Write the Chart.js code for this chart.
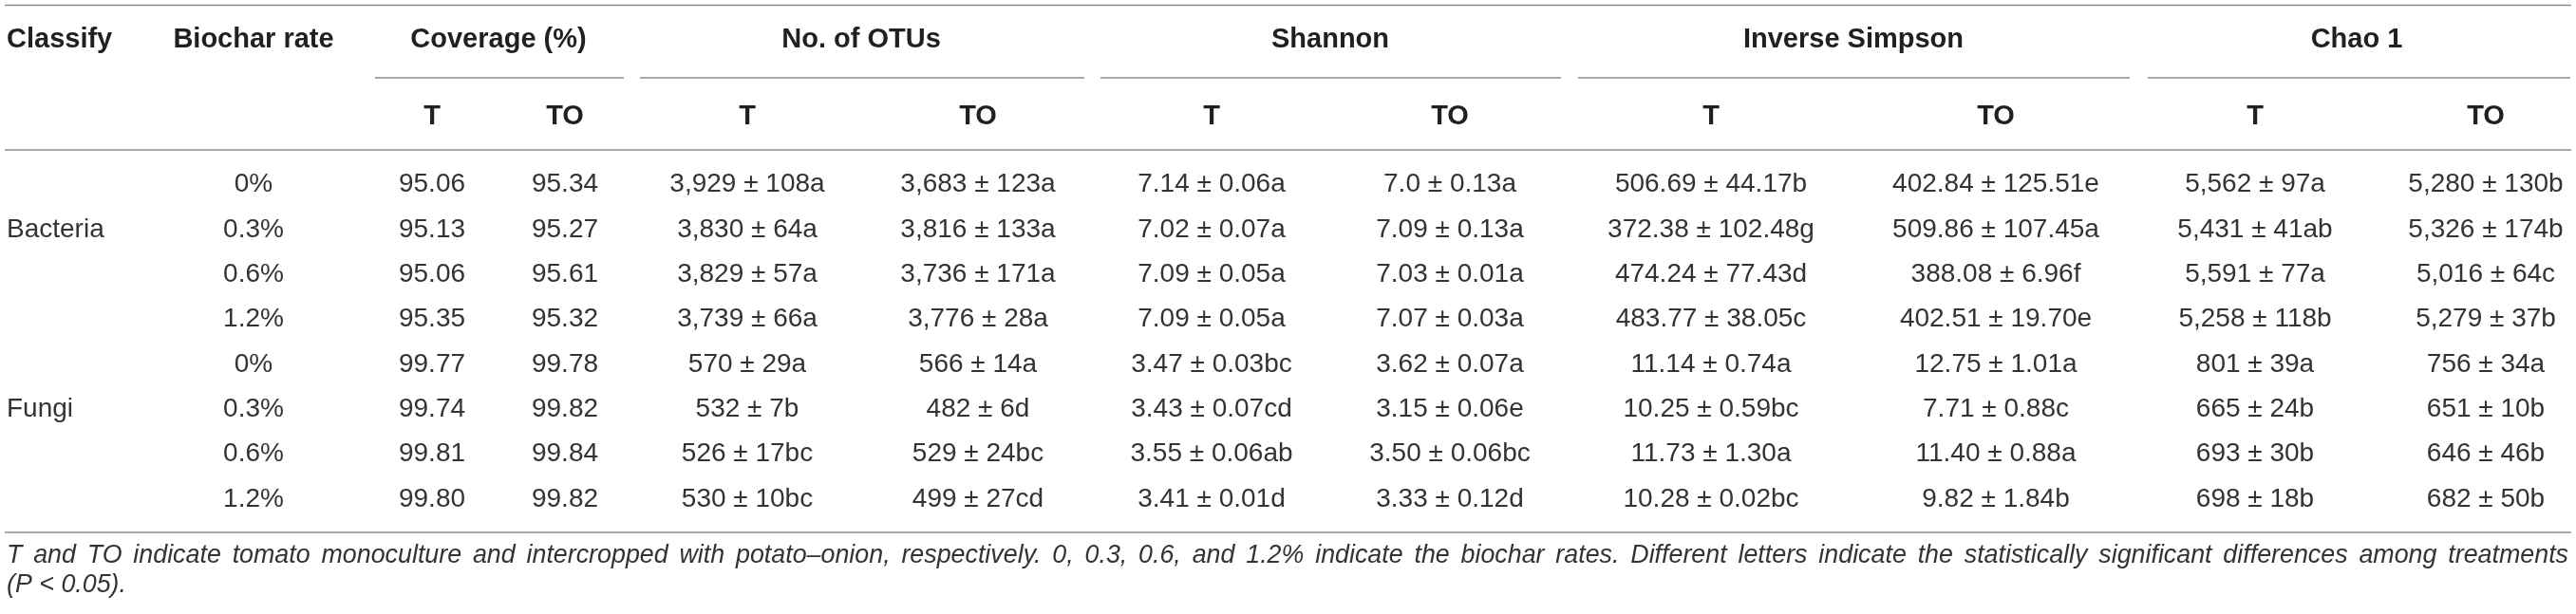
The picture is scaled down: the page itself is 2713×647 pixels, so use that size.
<!DOCTYPE html>
<html>
<head>
<meta charset="utf-8">
<script src="https://cdn.jsdelivr.net/npm/chart.js@4.4.1/dist/chart.umd.min.js"></script>
<style>
  html, body { margin: 0; padding: 0; background: #fff; }
  #wrap { width: 2713px; height: 647px; }
</style>
</head>
<body>
<div id="wrap"><canvas id="tbl"></canvas></div>
<script>
// ---- table content ----
const classes = ['Bacteria', 'Fungi'];
const rates = ['0%', '0.3%', '0.6%', '1.2%'];
const groups = ['Coverage (%)', 'No. of OTUs', 'Shannon', 'Inverse Simpson', 'Chao 1'];
const subHeads = ['T', 'TO'];

const coverageT  = ['95.06', '95.13', '95.06', '95.35', '99.77', '99.74', '99.81', '99.80'];
const coverageTO = ['95.34', '95.27', '95.61', '95.32', '99.78', '99.82', '99.84', '99.82'];
const otusT  = ['3,929 ± 108a', '3,830 ± 64a', '3,829 ± 57a', '3,739 ± 66a', '570 ± 29a', '532 ± 7b', '526 ± 17bc', '530 ± 10bc'];
const otusTO = ['3,683 ± 123a', '3,816 ± 133a', '3,736 ± 171a', '3,776 ± 28a', '566 ± 14a', '482 ± 6d', '529 ± 24bc', '499 ± 27cd'];
const shannonT  = ['7.14 ± 0.06a', '7.02 ± 0.07a', '7.09 ± 0.05a', '7.09 ± 0.05a', '3.47 ± 0.03bc', '3.43 ± 0.07cd', '3.55 ± 0.06ab', '3.41 ± 0.01d'];
const shannonTO = ['7.0 ± 0.13a', '7.09 ± 0.13a', '7.03 ± 0.01a', '7.07 ± 0.03a', '3.62 ± 0.07a', '3.15 ± 0.06e', '3.50 ± 0.06bc', '3.33 ± 0.12d'];
const invSimpsonT  = ['506.69 ± 44.17b', '372.38 ± 102.48g', '474.24 ± 77.43d', '483.77 ± 38.05c', '11.14 ± 0.74a', '10.25 ± 0.59bc', '11.73 ± 1.30a', '10.28 ± 0.02bc'];
const invSimpsonTO = ['402.84 ± 125.51e', '509.86 ± 107.45a', '388.08 ± 6.96f', '402.51 ± 19.70e', '12.75 ± 1.01a', '7.71 ± 0.88c', '11.40 ± 0.88a', '9.82 ± 1.84b'];
const chaoT  = ['5,562 ± 97a', '5,431 ± 41ab', '5,591 ± 77a', '5,258 ± 118b', '801 ± 39a', '665 ± 24b', '693 ± 30b', '698 ± 18b'];
const chaoTO = ['5,280 ± 130b', '5,326 ± 174b', '5,016 ± 64c', '5,279 ± 37b', '756 ± 34a', '651 ± 10b', '646 ± 46b', '682 ± 50b'];

const note1 = 'T and TO indicate tomato monoculture and intercropped with potato\u2013onion, respectively. 0, 0.3, 0.6, and 1.2% indicate the biochar rates. Different letters indicate the statistically significant differences among treatments';
const note2 = '(P < 0.05).';

const valueCols = [coverageT, coverageTO, otusT, otusTO, shannonT, shannonTO,
                   invSimpsonT, invSimpsonTO, chaoT, chaoTO];

// ---- layout (table units = px of the 2713 x 647 sheet) ----
const W = 2713, H = 647;
const classX = 7, rateX = 267;
const colX = [455, 595, 787, 1030, 1276, 1527, 1802, 2102, 2375, 2618];
const groupX = [525, 907, 1401, 1952, 2482];
const groupSpan = [[395, 657], [674, 1142], [1159, 1644], [1662, 2243], [2262, 2707]];
const ruleX = [5, 2708];
const head1Y = 42, head2Y = 123;
const ruleY = { top: 5.5, group: 82, head: 158, bottom: 561 };
const rowTop = 194.5, rowStep = 47.35;
const noteY = [586, 617];
const rowY = i => rowTop + i * rowStep;

const FAM = '"Liberation Sans", Arial, Helvetica, sans-serif';
const HEAD_FONT = 'bold 29px ' + FAM;
const CELL_FONT = '28px ' + FAM;
const HEAD_COLOR = '#231f20';
const CELL_COLOR = '#333333';
const RULE_COLOR = '#8c8c8c';

// ---- datasets: one per text column, points carry cell positions ----
const datasets = [];
function addCol(texts, pts, align, font, color) {
  datasets.push({ data: pts, texts: texts, align: align, font: font, color: color,
                  pointRadius: 0, pointHoverRadius: 0, showLine: false });
}

// header row 1
addCol(['Classify'], [{ x: classX, y: head1Y }], 'left', HEAD_FONT, HEAD_COLOR);
addCol(['Biochar rate'], [{ x: rateX, y: head1Y }], 'center', HEAD_FONT, HEAD_COLOR);
addCol(groups, groups.map((g, i) => ({ x: groupX[i], y: head1Y })), 'center', HEAD_FONT, HEAD_COLOR);
// header row 2
const subTexts = [], subPts = [];
colX.forEach((cx, i) => { subTexts.push(subHeads[i % 2]); subPts.push({ x: cx, y: head2Y }); });
addCol(subTexts, subPts, 'center', HEAD_FONT, HEAD_COLOR);

// body
const rateTexts = [], ratePts = [];
classes.forEach((c, g) => rates.forEach((r, k) => {
  rateTexts.push(r); ratePts.push({ x: rateX, y: rowY(g * rates.length + k) });
}));
addCol(classes, classes.map((c, g) => ({ x: classX, y: rowY(g * rates.length + 1) })), 'left', CELL_FONT, CELL_COLOR);
addCol(rateTexts, ratePts, 'center', CELL_FONT, CELL_COLOR);
valueCols.forEach((vals, c) => {
  addCol(vals, vals.map((v, i) => ({ x: colX[c], y: rowY(i) })), 'center', CELL_FONT, CELL_COLOR);
});

const tablePlugin = {
  id: 'tablePlugin',
  afterDatasetsDraw(chart) {
    const { ctx, scales: { x, y } } = chart;
    ctx.save();

    // rules
    ctx.strokeStyle = RULE_COLOR;
    ctx.lineWidth = 1.5;
    const hline = (x0, x1, yy) => {
      const py = y.getPixelForValue(yy);
      ctx.beginPath();
      ctx.moveTo(x.getPixelForValue(x0), py);
      ctx.lineTo(x.getPixelForValue(x1), py);
      ctx.stroke();
    };
    hline(ruleX[0], ruleX[1], ruleY.top);
    groupSpan.forEach(s => hline(s[0], s[1], ruleY.group));
    hline(ruleX[0], ruleX[1], ruleY.head);
    hline(ruleX[0], ruleX[1], ruleY.bottom);

    // cells
    ctx.textBaseline = 'middle';
    chart.data.datasets.forEach((ds, d) => {
      const meta = chart.getDatasetMeta(d);
      ctx.font = ds.font;
      ctx.fillStyle = ds.color;
      ctx.textAlign = ds.align;
      meta.data.forEach((pt, i) => ctx.fillText(ds.texts[i], pt.x, pt.y));
    });

    // footnote: size the italic so the first line nearly fills the width, then justify it
    const left = x.getPixelForValue(ruleX[0] + 2), right = x.getPixelForValue(ruleX[1] - 3);
    ctx.font = 'italic 100px ' + FAM;
    const noteSize = Math.min(28, 100 * 0.955 * (right - left) / ctx.measureText(note1).width);
    ctx.font = 'italic ' + noteSize.toFixed(2) + 'px ' + FAM;
    ctx.fillStyle = CELL_COLOR;
    ctx.textAlign = 'left';
    const words = note1.split(' ');
    const widths = words.map(w => ctx.measureText(w).width);
    const total = widths.reduce((a, b) => a + b, 0);
    const gap = (right - left - total) / (words.length - 1);
    let px = left;
    const py1 = y.getPixelForValue(noteY[0]);
    words.forEach((w, i) => { ctx.fillText(w, px, py1); px += widths[i] + gap; });
    ctx.fillText(note2, left, y.getPixelForValue(noteY[1]));

    ctx.restore();
  }
};

new Chart(document.getElementById('tbl'), {
  type: 'scatter',
  data: { datasets: datasets },
  options: {
    responsive: true,
    maintainAspectRatio: false,
    animation: false,
    events: [],
    layout: { padding: 0 },
    plugins: { legend: { display: false }, tooltip: { enabled: false } },
    scales: {
      x: { type: 'linear', min: 0, max: W, display: false },
      y: { type: 'linear', min: 0, max: H, reverse: true, display: false }
    }
  },
  plugins: [tablePlugin]
});
</script>
</body>
</html>
